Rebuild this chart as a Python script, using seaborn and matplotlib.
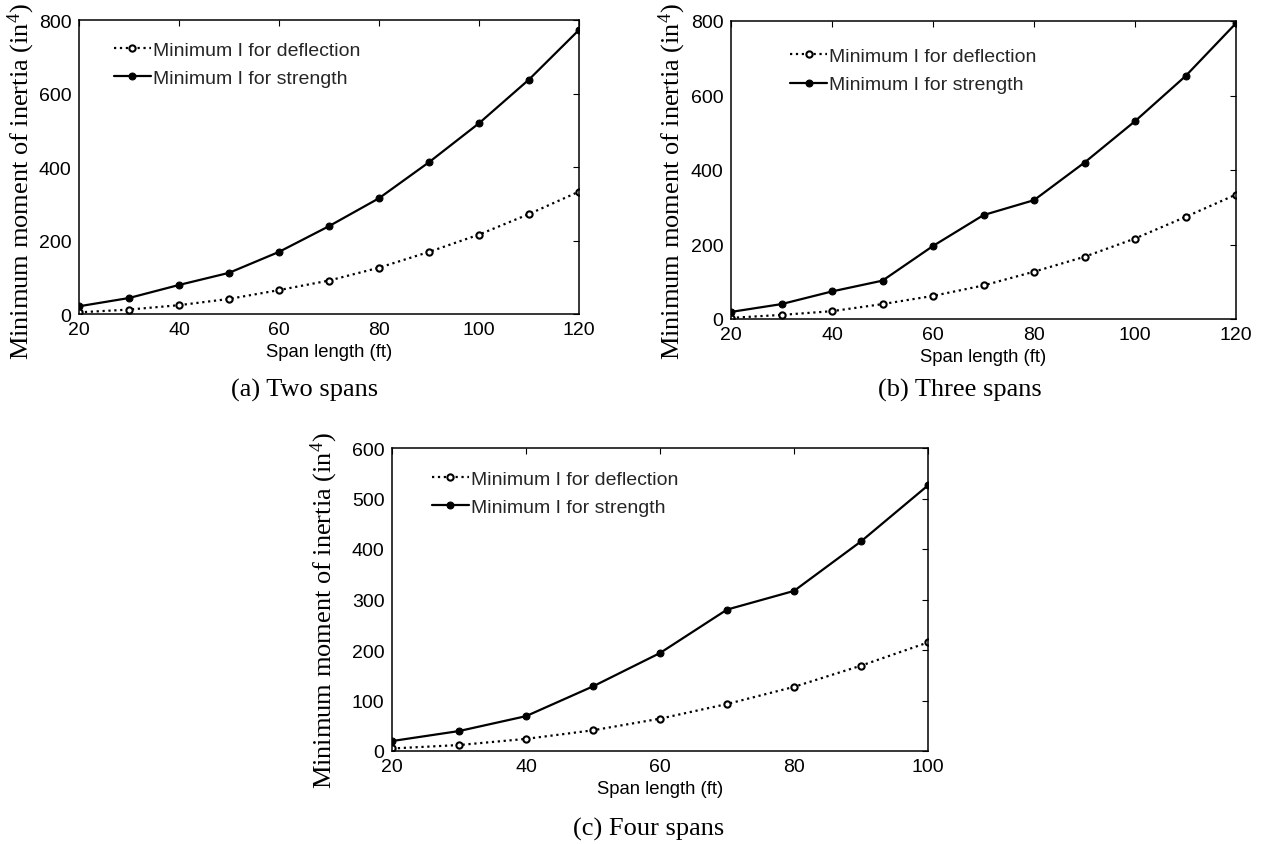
import matplotlib
matplotlib.use("Agg")
import matplotlib.pyplot as plt
import seaborn as sns
import numpy as np
import pandas as pd

# ---------------- data ----------------
span_ab = [20, 30, 40, 50, 60, 70, 80, 90, 100, 110, 120]
span_c = [20, 30, 40, 50, 60, 70, 80, 90, 100]

defl_a = [4.5, 12, 24, 41, 65, 91, 126, 169, 216, 272, 333]
strength_a = [21, 43.5, 79, 112, 169, 239, 315, 413, 519, 638, 773]

defl_b = [3, 11, 21, 40, 62, 90, 127, 167, 216, 274, 334]
strength_b = [19, 40, 74, 103, 196, 279, 319, 420, 531, 652, 794]

defl_c = [5, 11.8, 24, 41, 64, 93, 127, 169, 215]
strength_c = [19.7, 39.5, 69, 128, 194, 280, 317, 415, 526]

label_defl = "Minimum I for deflection"
label_str = "Minimum I for strength"
xlabel = "Span length (ft)"
ylabel = "Minimum moment of inertia (in$^4$)"
captions = ["(a) Two spans", "(b) Three spans", "(c) Four spans"]

xticks_ab = [20, 40, 60, 80, 100, 120]
xticks_c = [20, 40, 60, 80, 100]
yticks_ab = [0, 200, 400, 600, 800]
yticks_c = [0, 100, 200, 300, 400, 500, 600]

# ---------------- style ----------------
sns.set_theme(style="white")
plt.rcParams["font.family"] = ["Liberation Sans", "DejaVu Sans"]
plt.rcParams["mathtext.fontset"] = "custom"
plt.rcParams["mathtext.rm"] = "Liberation Serif"
plt.rcParams["mathtext.it"] = "Liberation Serif"
plt.rcParams["mathtext.bf"] = "Liberation Serif"

W, H = 1262, 845
fig = plt.figure(figsize=(W / 100, H / 100), dpi=100)
fig.patch.set_facecolor("white")


def px_axes(left, right, top, bottom):
    return fig.add_axes([left / W, 1 - bottom / H, (right - left) / W, (bottom - top) / H])


panels = [
    dict(box=(79, 579, 21, 315), x=span_ab, d=defl_a, s=strength_a, xt=xticks_ab, yt=yticks_ab,
         xlim=(20, 120), ylim=(0, 800), leg=(0.07, 0.905), ylc=(-0.083, 0.452), cap=(305, 390)),
    dict(box=(731, 1236, 22, 320), x=span_ab, d=defl_b, s=strength_b, xt=xticks_ab, yt=yticks_ab,
         xlim=(20, 120), ylim=(0, 800), leg=(0.117, 0.889), ylc=(-0.085, 0.463), cap=(960, 390)),
    dict(box=(392, 928, 449, 752), x=span_c, d=defl_c, s=strength_c, xt=xticks_c, yt=yticks_c,
         xlim=(20, 100), ylim=(0, 600), leg=(0.074, 0.904), ylc=(-0.097, 0.465), cap=(649, 829)),
]

for i, p in enumerate(panels):
    ax = px_axes(*p["box"])
    df = pd.DataFrame({"span": p["x"], "defl": p["d"], "strength": p["s"]})
    sns.lineplot(data=df, x="span", y="defl", ax=ax, color="black", linestyle=":", linewidth=1.6,
                 marker="o", markersize=4.5, markerfacecolor="white", markeredgecolor="black",
                 markeredgewidth=1.5, label=label_defl, legend=False)
    sns.lineplot(data=df, x="span", y="strength", ax=ax, color="black", linestyle="-", linewidth=1.6,
                 marker="o", markersize=5, markerfacecolor="black", markeredgecolor="black",
                 label=label_str, legend=False)
    ax.set_xlim(*p["xlim"])
    ax.set_ylim(*p["ylim"])
    ax.set_xticks(p["xt"])
    ax.set_yticks(p["yt"])
    ax.tick_params(axis="both", which="both", direction="in", length=4.5, width=0.8,
                   top=True, right=True, colors="black", labelsize=14)
    ax.tick_params(axis="x", pad=4.8)
    ax.tick_params(axis="y", pad=5.5)
    for sp in ax.spines.values():
        sp.set_visible(True)
        sp.set_color("black")
        sp.set_linewidth(1.1)
    ax.set_xlabel(xlabel, fontsize=13.3, labelpad=4, color="black")
    ax.set_ylabel(ylabel, fontsize=19, family=["Liberation Serif", "DejaVu Serif"], color="black")
    ax.yaxis.set_label_coords(*p["ylc"])
    leg = ax.legend(loc="upper left", frameon=False, fontsize=14,
                    handlelength=1.9, handletextpad=0.1, labelspacing=0.56, borderaxespad=0,
                    borderpad=0, numpoints=1)
    leg.set_bbox_to_anchor((p["leg"][0], p["leg"][1] + 0.023), transform=ax.transAxes)
    fig.text(p["cap"][0] / W, 1 - p["cap"][1] / H, captions[i], ha="center", va="center",
             fontsize=19, family=["Liberation Serif", "DejaVu Serif"], color="black")

fig.savefig("out.png", dpi=100, facecolor="white")
